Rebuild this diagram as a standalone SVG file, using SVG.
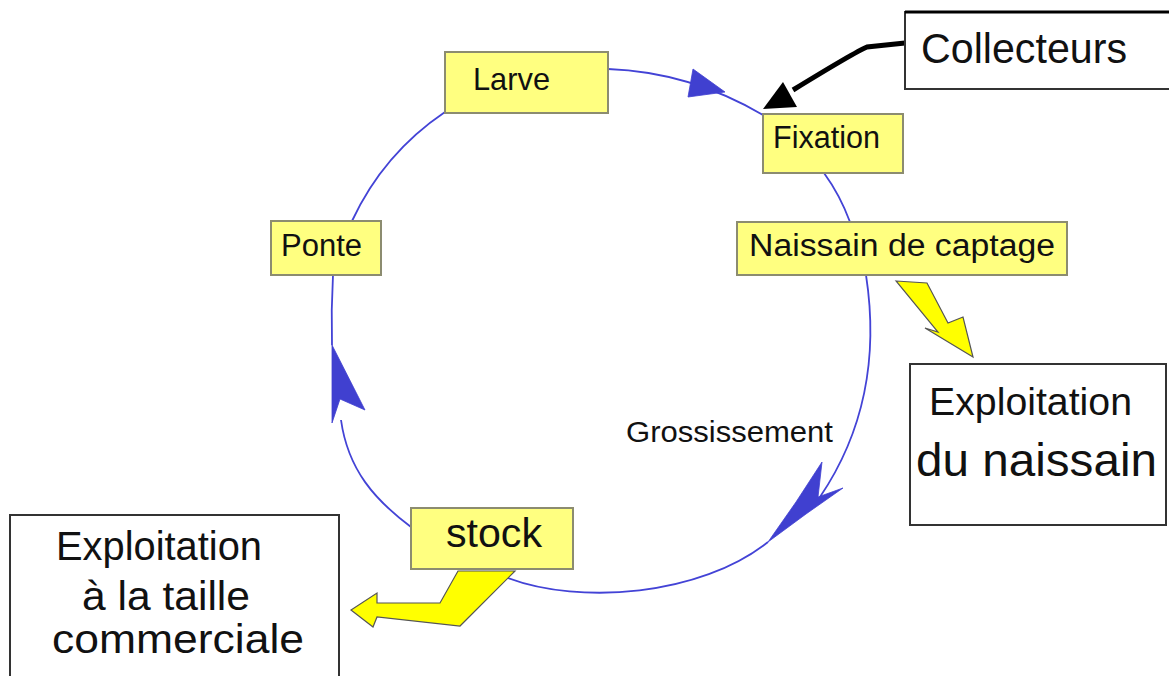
<svg xmlns="http://www.w3.org/2000/svg" width="1169" height="676" viewBox="0 0 1169 676">
<style>
.ybox{fill:#ffff80;stroke:#8c8c70;stroke-width:2}
.wbox{fill:#fff;stroke:#333;stroke-width:2}
.t{font-family:"Liberation Sans",Arial,sans-serif;fill:#111}
.cyc{fill:none;stroke:#4343d6;stroke-width:1.8}
.head{fill:#4040d0;stroke:#4040d0;stroke-width:0.8;stroke-linejoin:round}
.yarrow{fill:#ffff00;stroke:#555;stroke-width:1.2;stroke-linejoin:miter}
</style>
<rect width="1169" height="676" fill="#fff"/>
<g id="connectors">
  <path class="cyc" d="M608,69 Q690,72 763,115"/>
  <polygon class="head" points="693,69 725,92 688,97"/>
  <path class="cyc" d="M824,173 Q840,195 850,222"/>
  <path class="cyc" d="M866,275 C876,340 872,420 820,497"/>
  <polygon class="head" points="822,462 818,497 843,488 806,514 768,542 796,502"/>
  <path class="cyc" d="M768,542 C700,596 580,605 508,578"/>
  <path class="cyc" d="M411,527 C375,500 348,470 341,420"/>
  <polygon class="head" points="332,345 365,410 340,399 332,423"/>
  <path class="cyc" d="M333,275 Q331,310 332,345"/>
  <path class="cyc" d="M352,221 A268,268 0 0 1 445,112"/>
  <path d="M905,43 L867,47 Q855,52 793,90" fill="none" stroke="#000" stroke-width="5"/>
  <polygon points="763,109 783,82 797,107" fill="#000"/>
  <polygon class="yarrow" points="896,281 927,283 948,323 963,317 973,357 925,328 938,332"/>
  <polygon class="yarrow" points="458,571 515,571 460,626 377,617 373,627 351,610 377,593 377,603 440,603"/>
</g>
<g id="node-larve">
  <rect class="ybox" x="445" y="52" width="163" height="61"/>
  <text class="t" x="473" y="90" font-size="32" textLength="77" lengthAdjust="spacingAndGlyphs">Larve</text>
</g>
<g id="node-fixation">
  <rect class="ybox" x="763" y="114" width="140" height="59"/>
  <text class="t" x="773" y="148" font-size="31" textLength="107" lengthAdjust="spacingAndGlyphs">Fixation</text>
</g>
<g id="node-naissain-captage">
  <rect class="ybox" x="737" y="222" width="330" height="53"/>
  <text class="t" x="749" y="256" font-size="31" textLength="306" lengthAdjust="spacingAndGlyphs">Naissain de captage</text>
</g>
<g id="node-ponte">
  <rect class="ybox" x="271" y="221" width="110" height="54"/>
  <text class="t" x="281" y="256" font-size="31" textLength="81" lengthAdjust="spacingAndGlyphs">Ponte</text>
</g>
<g id="node-stock">
  <rect class="ybox" x="411" y="508" width="162" height="61"/>
  <text class="t" x="446" y="547" font-size="40" textLength="96" lengthAdjust="spacingAndGlyphs">stock</text>
</g>
<g id="label-grossissement">
  <text class="t" x="626" y="442" font-size="29" textLength="207" lengthAdjust="spacingAndGlyphs">Grossissement</text>
</g>
<g id="node-collecteurs">
  <rect class="wbox" x="905" y="12" width="280" height="77"/>
  <line x1="905" y1="12" x2="1169" y2="12" stroke="#000" stroke-width="3"/>
  <text class="t" x="921" y="63" font-size="42" textLength="206" lengthAdjust="spacingAndGlyphs">Collecteurs</text>
</g>
<g id="node-exploitation-naissain">
  <rect class="wbox" x="910" y="364" width="256" height="161"/>
  <text class="t" x="929" y="415" font-size="38" textLength="203" lengthAdjust="spacingAndGlyphs">Exploitation</text>
  <text class="t" x="916" y="476" font-size="46" textLength="241" lengthAdjust="spacingAndGlyphs">du naissain</text>
</g>
<g id="node-exploitation-commerciale">
  <rect class="wbox" x="10" y="515" width="329" height="180"/>
  <text class="t" x="56" y="560" font-size="40" textLength="206" lengthAdjust="spacingAndGlyphs">Exploitation</text>
  <text class="t" x="82" y="610" font-size="40" textLength="168" lengthAdjust="spacingAndGlyphs">à la taille</text>
  <text class="t" x="52" y="653" font-size="40" textLength="252" lengthAdjust="spacingAndGlyphs">commerciale</text>
</g>
</svg>
